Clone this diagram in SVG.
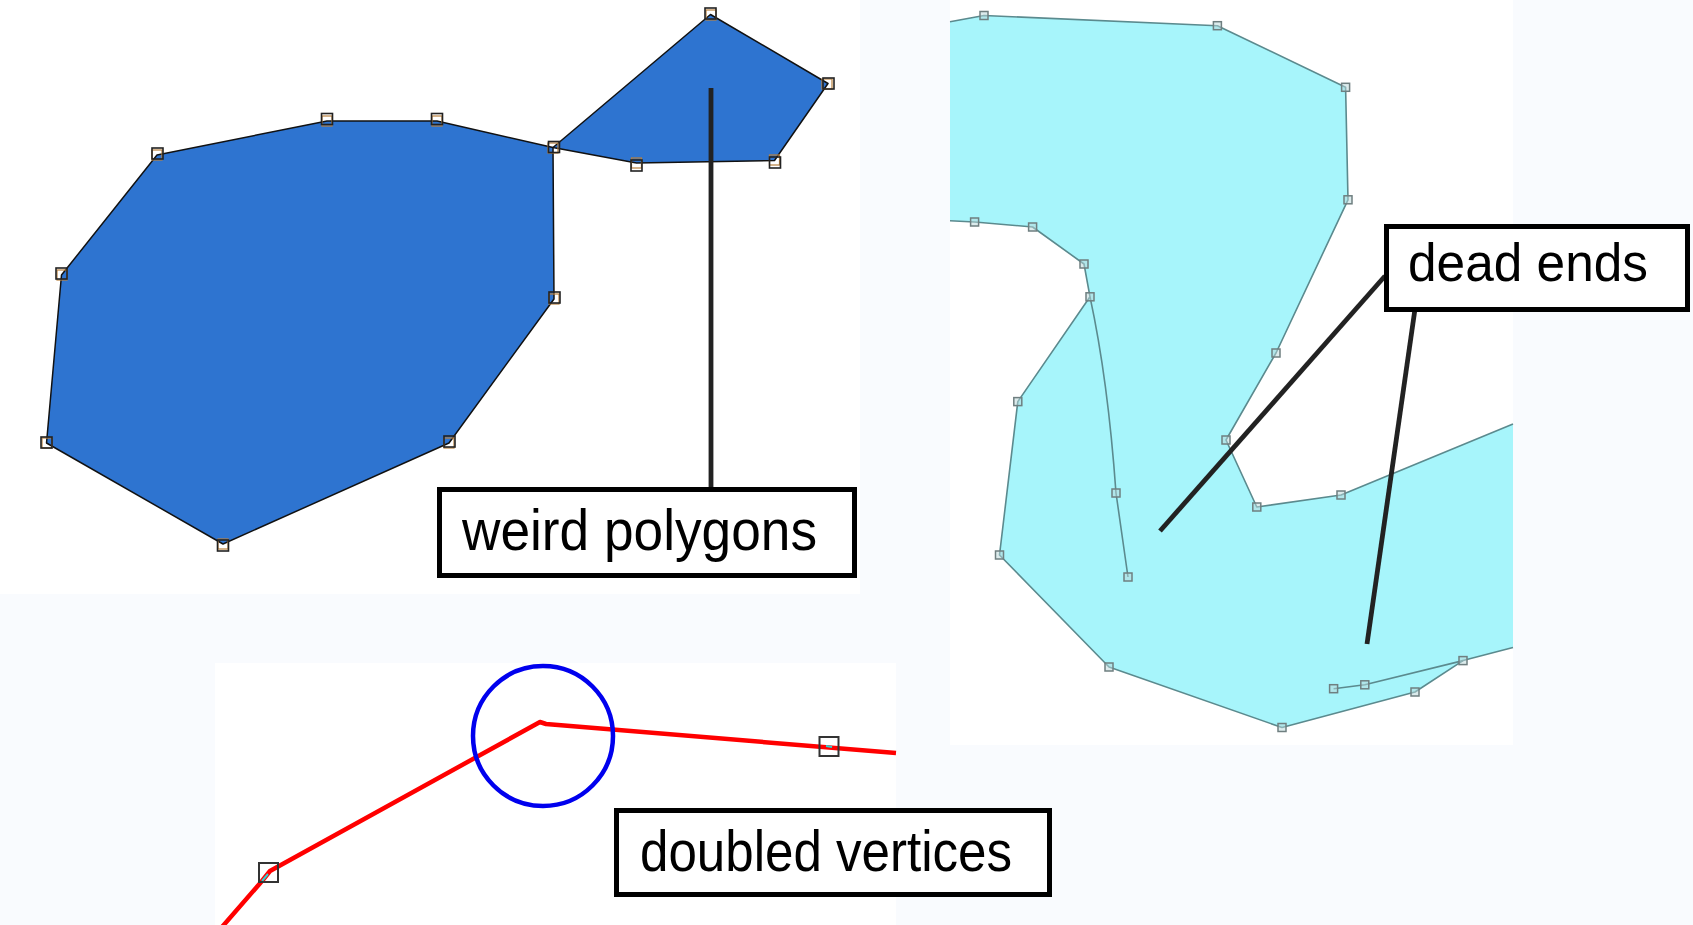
<svg xmlns="http://www.w3.org/2000/svg" width="1693" height="925" viewBox="0 0 1693 925">
  <defs>
    <style>
      .bg { fill: #ffffff; }
      .blue { fill: #2e74d0; stroke: #111; stroke-width: 1.5; stroke-linejoin: round; }
      .vk { fill: none; stroke: #222; stroke-width: 1.6; }
      .vo { fill: none; stroke: #b8803e; stroke-width: 1.2; }
      .cyan { fill: #a7f5fb; stroke: none; }
      .cedge { fill: none; stroke: #5b8a8e; stroke-width: 1.6; stroke-linejoin: round; }
      .cv { fill: #b9d8da; fill-opacity: 0.5; stroke: #6f7f80; stroke-width: 1.5; }
      .leader { stroke: #222; stroke-width: 4.8; fill: none; stroke-linecap: butt; }
      .box { fill: #ffffff; stroke: #000; stroke-width: 5; }
      .label { font-family: "Liberation Sans", Arial, sans-serif; fill: #000; }
      .red { fill: none; stroke: #ff0000; stroke-width: 4.5; stroke-linejoin: round; }
      .rv { fill: none; stroke: #333; stroke-width: 2; }
    </style>
  </defs>

  <rect x="0" y="0" width="1693" height="925" fill="#f9fbfe"/>
  <rect class="bg" x="0" y="0" width="860" height="594"/>
  <rect class="bg" x="950" y="0" width="563" height="745"/>
  <rect class="bg" x="215" y="663" width="681" height="262"/>

  <!-- weird polygons -->
  <g id="weird-polygons">
    <polygon class="blue" points="157,155 327,121 437,121 553,147.5 554,299 449,443 223,544 46.5,443 61.5,275"/>
    <polygon class="blue" points="553,147.5 710.5,14.5 828,83.5 774.5,160.5 636.5,163"/>
    <g id="blue-vertices">
      <rect class="vo" x="152" y="150" width="10" height="10"/><rect class="vk" x="152" y="148" width="11" height="11"/>
      <rect class="vo" x="322" y="116" width="10" height="10"/><rect class="vk" x="321.5" y="113.5" width="11" height="11"/>
      <rect class="vo" x="432" y="116" width="10" height="10"/><rect class="vk" x="431.5" y="113.5" width="11" height="11"/>
      <rect class="vo" x="548" y="143" width="10" height="10"/><rect class="vk" x="548.5" y="141.5" width="11" height="11"/>
      <rect class="vo" x="549" y="294" width="10" height="10"/><rect class="vk" x="549" y="292" width="11" height="11"/>
      <rect class="vo" x="444" y="438" width="10" height="10"/><rect class="vk" x="444" y="436" width="11" height="11"/>
      <rect class="vo" x="218" y="539" width="10" height="10"/><rect class="vk" x="217.5" y="540" width="11" height="11"/>
      <rect class="vo" x="42" y="438" width="10" height="10"/><rect class="vk" x="41" y="437" width="11" height="11"/>
      <rect class="vo" x="57" y="270" width="10" height="10"/><rect class="vk" x="56" y="268" width="11" height="11"/>
      <rect class="vo" x="706" y="10" width="10" height="10"/><rect class="vk" x="705" y="8" width="11" height="11"/>
      <rect class="vo" x="822" y="79" width="10" height="10"/><rect class="vk" x="823" y="78" width="11" height="11"/>
      <rect class="vo" x="769.5" y="155" width="10" height="10"/><rect class="vk" x="769.5" y="157" width="11" height="11"/>
      <rect class="vo" x="631.5" y="158" width="10" height="10"/><rect class="vk" x="631" y="160" width="11" height="11"/>
    </g>
  </g>

  <!-- dead ends polygon -->
  <g id="dead-ends-polygon">
    <polygon class="cyan" points="950,21.8 984,15.5 1217.4,25.7 1345.6,87.3 1348,199.8 1276,353 1226,440 1256.8,507 1341,495 1513,424 1513,647.5 1463,660.6 1415,692 1282,727.5 1109,667 999.5,555 1017.8,401.6 1090,296.8 1084,264 1032.6,227 974.6,222 950,220.7"/>
    <polyline class="cedge" points="950,21.8 984,15.5 1217.4,25.7 1345.6,87.3 1348,199.8 1276,353 1226,440 1256.8,507 1341,495 1513,424"/>
    <polyline class="cedge" points="1513,647.5 1463,660.6 1415,692 1282,727.5 1109,667 999.5,555 1017.8,401.6 1090,296.8 1084,264 1032.6,227 974.6,222 950,220.7"/>
    <path class="cedge" d="M1090,296.8 Q1108,380 1116,493 L1128,577"/>
    <polyline class="cedge" points="1463,660.6 1364.8,684.8 1333.6,688.7"/>
    <g id="cyan-vertices">
      <rect class="cv" x="980" y="11.5" width="8" height="8"/>
      <rect class="cv" x="1213.4" y="21.7" width="8" height="8"/>
      <rect class="cv" x="1341.6" y="83.3" width="8" height="8"/>
      <rect class="cv" x="1344" y="195.8" width="8" height="8"/>
      <rect class="cv" x="1272" y="349" width="8" height="8"/>
      <rect class="cv" x="1222" y="436" width="8" height="8"/>
      <rect class="cv" x="1252.8" y="503" width="8" height="8"/>
      <rect class="cv" x="1337" y="491" width="8" height="8"/>
      <rect class="cv" x="1459" y="656.6" width="8" height="8"/>
      <rect class="cv" x="1411" y="688" width="8" height="8"/>
      <rect class="cv" x="1278" y="723.5" width="8" height="8"/>
      <rect class="cv" x="1105" y="663" width="8" height="8"/>
      <rect class="cv" x="995.5" y="551" width="8" height="8"/>
      <rect class="cv" x="1013.8" y="397.6" width="8" height="8"/>
      <rect class="cv" x="1086" y="292.8" width="8" height="8"/>
      <rect class="cv" x="1080" y="260" width="8" height="8"/>
      <rect class="cv" x="1028.6" y="223" width="8" height="8"/>
      <rect class="cv" x="970.6" y="218" width="8" height="8"/>
      <rect class="cv" x="1112" y="489" width="8" height="8"/>
      <rect class="cv" x="1124" y="573" width="8" height="8"/>
      <rect class="cv" x="1360.8" y="680.8" width="8" height="8"/>
      <rect class="cv" x="1329.6" y="684.7" width="8" height="8"/>
    </g>
  </g>

  <!-- doubled vertices line -->
  <g id="doubled-vertices-line">
    <path class="red" d="M222,927 L262,881 L270,871 L540,722 L546,724 L896,753"/>
    <line x1="262" y1="881" x2="268" y2="874" stroke="#30d0d0" stroke-width="2"/>
    <line x1="826" y1="746" x2="832" y2="747" stroke="#30d0d0" stroke-width="2"/>
    <rect class="rv" x="259" y="863" width="19" height="19"/>
    <rect class="rv" x="819.5" y="737" width="19" height="19"/>
    <circle cx="543" cy="736" r="70" fill="none" stroke="#0000ee" stroke-width="4.5"/>
  </g>

  <!-- connectors -->
  <g id="connectors">
    <line class="leader" x1="711" y1="88" x2="711" y2="489"/>
    <line class="leader" x1="1385" y1="276" x2="1160" y2="531"/>
    <line class="leader" x1="1415" y1="309" x2="1367" y2="644"/>
  </g>

  <!-- labels -->
  <g id="label-weird-polygons">
    <rect class="box" x="439.5" y="489.5" width="415" height="86"/>
    <text class="label" x="462" y="550" font-size="57" textLength="355" lengthAdjust="spacingAndGlyphs">weird polygons</text>
  </g>
  <g id="label-dead-ends">
    <rect class="box" x="1386.5" y="226.5" width="301" height="83"/>
    <text class="label" x="1408" y="281" font-size="54" textLength="240" lengthAdjust="spacingAndGlyphs">dead ends</text>
  </g>
  <g id="label-doubled-vertices">
    <rect class="box" x="616.5" y="810.5" width="433" height="84"/>
    <text class="label" x="640" y="871" font-size="57" textLength="372" lengthAdjust="spacingAndGlyphs">doubled vertices</text>
  </g>
</svg>
